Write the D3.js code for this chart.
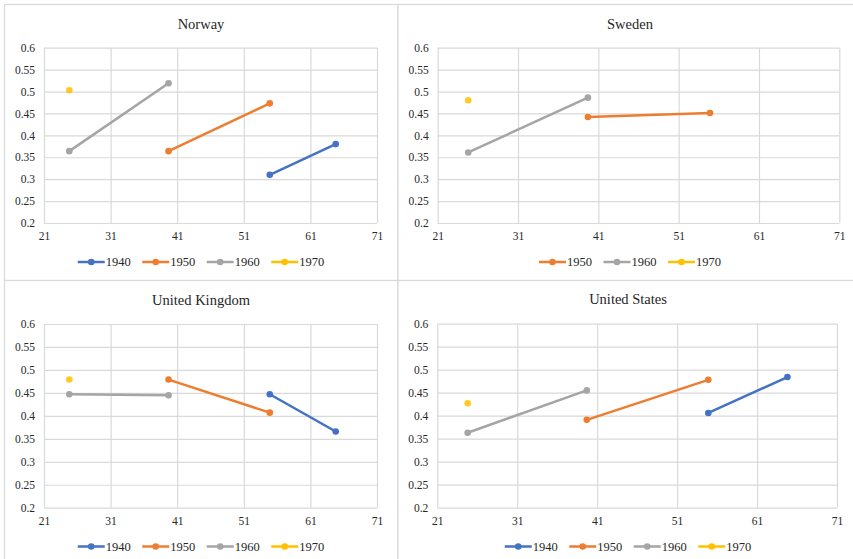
<!DOCTYPE html>
<html>
<head>
<meta charset="utf-8">
<script src="https://cdn.jsdelivr.net/npm/d3@7"></script>
<style>
  html, body { margin: 0; padding: 0; background: #fff; }
  svg { display: block; }
  svg text { font-family: 'Liberation Serif', 'Times New Roman', serif; }
</style>
</head>
<body>
<svg id="chart" width="853" height="559"></svg>
<script>
// Cohorts (birth decade) and the mean ages at which each cohort is observed
const cohorts = ["1940", "1950", "1960", "1970"];
const cohortAges = [[54.9, 64.8], [39.7, 54.9], [24.8, 39.7], [24.8]];
const colors = ["#4472C4", "#ED7D31", "#A5A5A5", "#FFC000"];

// Values per country, one array per cohort (null = no observations)
const countries = ["Norway", "Sweden", "United Kingdom", "United States"];
const norway = [[0.31, 0.38], [0.364, 0.473], [0.364, 0.519], [0.503]];
const sweden = [null, [0.442, 0.451], [0.361, 0.486], [0.48]];
const unitedKingdom = [[0.447, 0.366], [0.479, 0.407], [0.447, 0.445], [0.479]];
const unitedStates = [[0.406, 0.484], [0.391, 0.478], [0.363, 0.455], [0.427]];
const countryValues = [norway, sweden, unitedKingdom, unitedStates];

// Axis ticks
const xTicks = [21, 31, 41, 51, 61, 71];
const yTicks = [0.2, 0.25, 0.3, 0.35, 0.4, 0.45, 0.5, 0.55, 0.6];

// Panel layout: outer frame, plot area, title and legend centre
const panels = [
  { x0: 4.5, y0: 4.5, x1: 398, y1: 280.5, px0: 44, px1: 377, py0: 47.7, py1: 223, cx: 201, titleY: 29, legendY: 262 },
  { x0: 398, y0: 4.5, x1: 860, y1: 280.5, px0: 437.7, px1: 839.3, py0: 47.7, py1: 223, cx: 630, titleY: 29, legendY: 262 },
  { x0: 4.5, y0: 280.5, x1: 398, y1: 570, px0: 44, px1: 377, py0: 324, py1: 507.7, cx: 201, titleY: 305, legendY: 546.5 },
  { x0: 398, y0: 280.5, x1: 860, y1: 570, px0: 437.3, px1: 837, py0: 323.7, py1: 507.7, cx: 628, titleY: 304, legendY: 546.5 }
];

const svg = d3.select("#chart");
const gridColor = "#d9d9d9";
const textColor = "#262626";
const serif = "'Liberation Serif', 'Times New Roman', serif";

panels.forEach((p, i) => {
  const g = svg.append("g");

  // panel frame
  g.append("rect")
    .attr("x", p.x0).attr("y", p.y0)
    .attr("width", p.x1 - p.x0).attr("height", p.y1 - p.y0)
    .attr("fill", "#fff").attr("stroke", gridColor).attr("stroke-width", 1.2);

  const x = d3.scaleLinear().domain([21, 71]).range([p.px0, p.px1]);
  const y = d3.scaleLinear().domain([0.2, 0.6]).range([p.py1, p.py0]);

  // y axis with full-width gridlines
  const ya = g.append("g")
    .attr("transform", `translate(${p.px0},0)`)
    .call(d3.axisLeft(y).tickValues(yTicks).tickFormat(d3.format("")).tickSize(-(p.px1 - p.px0)).tickPadding(9));
  ya.attr("font-family", serif).attr("font-size", 11.5);
  ya.select(".domain").remove();
  ya.selectAll("line").attr("stroke", gridColor).attr("stroke-width", 1.2);
  ya.selectAll("text").attr("fill", textColor);

  // x axis with full-height gridlines
  const xa = g.append("g")
    .attr("transform", `translate(0,${p.py1})`)
    .call(d3.axisBottom(x).tickValues(xTicks).tickFormat(d3.format("d")).tickSize(-(p.py1 - p.py0)).tickPadding(9));
  xa.attr("font-family", serif).attr("font-size", 11.5);
  xa.select(".domain").remove();
  xa.selectAll("line").attr("stroke", gridColor).attr("stroke-width", 1.2);
  xa.selectAll("text").attr("fill", textColor);

  // title
  g.append("text")
    .attr("x", p.cx).attr("y", p.titleY)
    .attr("text-anchor", "middle")
    .attr("fill", textColor)
    .attr("font-family", serif)
    .attr("font-size", 14.5)
    .text(countries[i]);

  // cohort series
  const values = countryValues[i];
  const line = d3.line().x(d => x(d[0])).y(d => y(d[1]));
  const present = [];
  cohorts.forEach((c, k) => {
    if (!values[k]) return;
    present.push(k);
    const pts = values[k].map((v, j) => [cohortAges[k][j], v]);
    if (pts.length > 1) {
      g.append("path")
        .datum(pts)
        .attr("d", line)
        .attr("fill", "none")
        .attr("stroke", colors[k])
        .attr("stroke-width", 2.5)
        .attr("stroke-linecap", "round");
    }
    g.selectAll(null).data(pts).enter().append("circle")
      .attr("cx", d => x(d[0])).attr("cy", d => y(d[1]))
      .attr("r", 3.3)
      .attr("fill", colors[k])
      .attr("opacity", k === 3 ? 0.85 : 1);
  });

  // legend
  const itemW = 64.5, swatch = 27, textW = 26;
  const totalW = (present.length - 1) * itemW + swatch + textW;
  const lx0 = p.cx - totalW / 2;
  present.forEach((k, n) => {
    const lx = lx0 + n * itemW;
    g.append("line")
      .attr("x1", lx).attr("x2", lx + swatch)
      .attr("y1", p.legendY).attr("y2", p.legendY)
      .attr("stroke", colors[k]).attr("stroke-width", 2.5);
    g.append("circle")
      .attr("cx", lx + swatch / 2).attr("cy", p.legendY).attr("r", 3.3)
      .attr("fill", colors[k]);
    g.append("text")
      .attr("x", lx + swatch + 1).attr("y", p.legendY)
      .attr("dy", "0.35em")
      .attr("fill", textColor)
      .attr("font-family", serif)
      .attr("font-size", 12.5)
      .text(cohorts[k]);
  });
});
</script>
</body>
</html>
